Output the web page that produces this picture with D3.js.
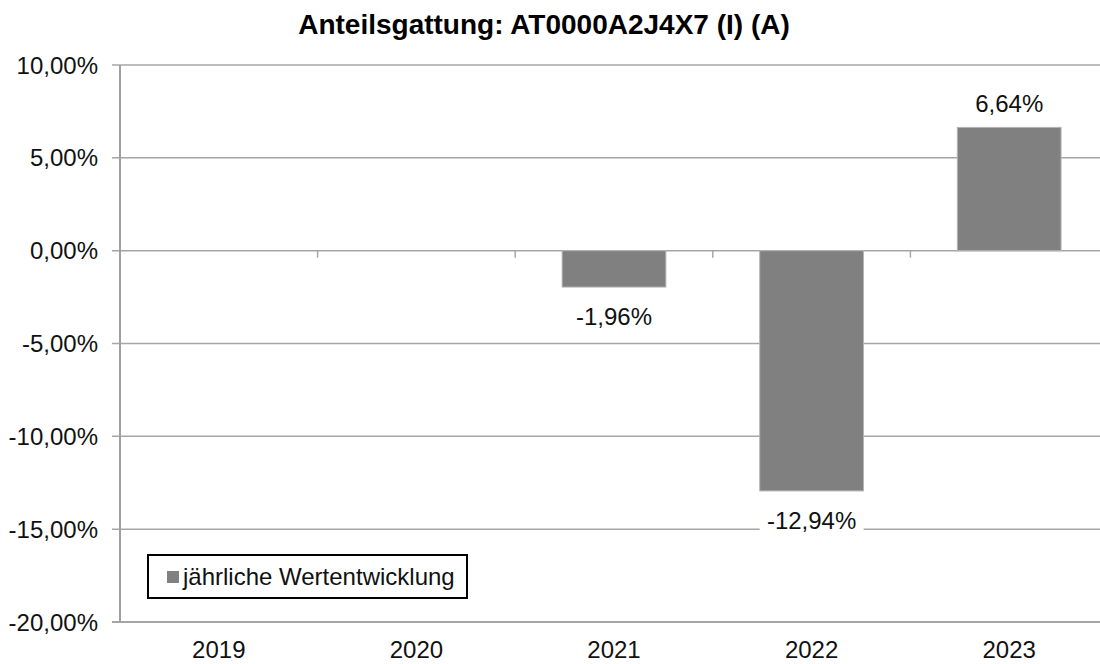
<!DOCTYPE html>
<html><head><meta charset="utf-8">
<script src="https://cdn.jsdelivr.net/npm/d3@7"></script>
<style>body{margin:0;background:#fff;} svg{display:block;font-family:"Liberation Sans",Arial,sans-serif;}</style>
</head><body><svg id="c" width="1100" height="664"></svg>
<script>
const title = "Anteilsgattung: AT0000A2J4X7 (I) (A)";
const years = ["2019","2020","2021","2022","2023"];
const values = [null, null, -1.96, -12.94, 6.64];
const yTicks = [10, 5, 0, -5, -10, -15, -20];
const legendLabel = "jährliche Wertentwicklung";

const svg = d3.select("#c");
const x = d3.scaleBand().domain(years).range([120, 1108]).paddingInner(0.475).paddingOuter(0.2375);
const xc = d3.scaleBand().domain(years).range([120, 1108]);
const y = d3.scaleLinear().domain([-20, 10]).range([622, 65]);
const fmt = v => d3.format(".2f")(v).replace(".", ",").replace("\u2212", "-") + "%";
const FS = 24;

// gridlines
svg.append("g").selectAll("line").data(yTicks).join("line")
  .attr("x1", 112).attr("x2", 1108).attr("y1", d => y(d)).attr("y2", d => y(d))
  .attr("stroke", "#a6a6a6").attr("stroke-width", d => d === -20 ? 2 : 1.5);

// y axis line
svg.append("line").attr("x1", 120).attr("x2", 120).attr("y1", y(10)).attr("y2", y(-20))
  .attr("stroke", "#a0a0a0").attr("stroke-width", 2);

// category tick marks on zero line
svg.append("g").selectAll("line").data(years.slice(1)).join("line")
  .attr("x1", d => xc(d)).attr("x2", d => xc(d)).attr("y1", y(0)).attr("y2", y(0) + 7)
  .attr("stroke", "#a6a6a6").attr("stroke-width", 1.5);

// y labels
svg.append("g").selectAll("text").data(yTicks).join("text")
  .attr("x", 98).attr("y", d => y(d)).attr("dy", "0.36em").attr("text-anchor", "end")
  .attr("font-size", FS).attr("fill", "#111").text(fmt);

// x labels
svg.append("g").selectAll("text").data(years).join("text")
  .attr("x", d => xc(d) + xc.bandwidth() / 2).attr("y", 658).attr("text-anchor", "middle")
  .attr("font-size", FS).attr("fill", "#111").text(d => d);

const data = years.map((yr, i) => ({yr, v: values[i]})).filter(d => d.v !== null);

// bars
svg.append("g").selectAll("rect").data(data).join("rect")
  .attr("x", d => x(d.yr)).attr("width", x.bandwidth())
  .attr("y", d => y(Math.max(0, d.v))).attr("height", d => Math.abs(y(d.v) - y(0)))
  .attr("fill", "#808080").attr("stroke", "#b4b4b4").attr("stroke-width", 1);

// data labels
const lbl = svg.append("g").selectAll("g").data(data).join("g")
  .attr("transform", d => `translate(${x(d.yr) + x.bandwidth() / 2},${d.v >= 0 ? y(d.v) - 24 : y(d.v) + 29})`);
lbl.append("rect").attr("x", -52).attr("width", 104).attr("y", -14).attr("height", 28)
  .attr("fill", "#fff");
lbl.append("text").attr("text-anchor", "middle").attr("dy", "0.36em").attr("font-size", FS)
  .attr("fill", "#111").text(d => fmt(d.v));

// title
svg.append("text").attr("x", 544).attr("y", 34).attr("text-anchor", "middle")
  .attr("font-size", 28).attr("font-weight", "bold").attr("fill", "#000").text(title);

// legend
const lg = svg.append("g");
lg.append("rect").attr("x", 148).attr("y", 555).attr("width", 319).attr("height", 43)
  .attr("fill", "#fff").attr("stroke", "#000").attr("stroke-width", 2);
lg.append("rect").attr("x", 167).attr("y", 571).attr("width", 12).attr("height", 12).attr("fill", "#808080");
lg.append("text").attr("x", 183).attr("y", 585).attr("font-size", FS).attr("fill", "#111").text(legendLabel);
</script></body></html>
